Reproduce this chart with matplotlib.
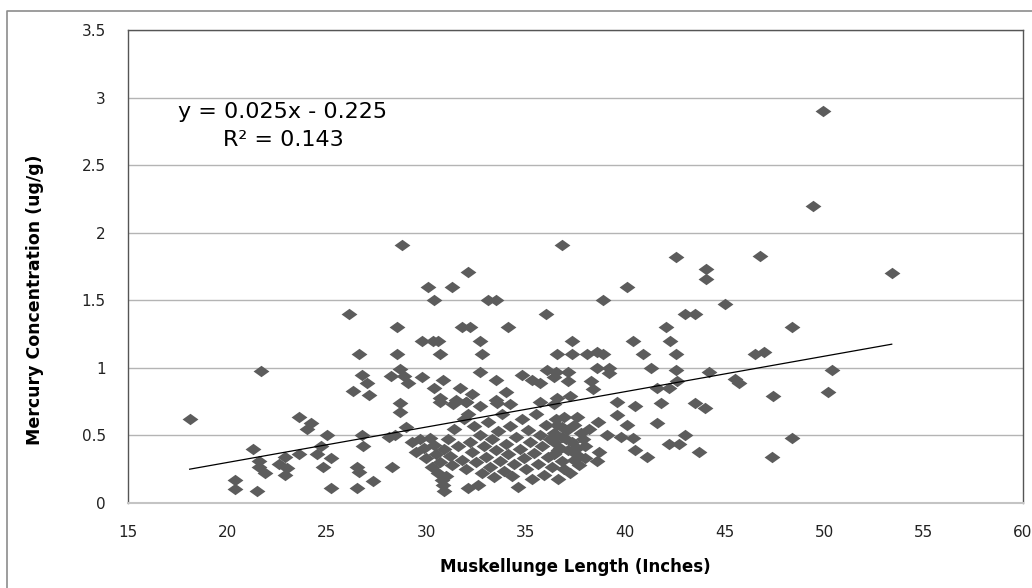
import matplotlib
matplotlib.use("Agg")
import matplotlib.pyplot as plt
import numpy as np
from matplotlib.lines import Line2D
from matplotlib.ticker import FuncFormatter

# lengths (inches) and mercury (ug/g)
length_in = [
    18.1, 20.4, 20.4, 21.5, 21.3, 21.6, 21.6, 21.9, 21.7,
    22.6, 22.9, 23.0, 22.9, 23.6, 23.6, 24.2, 24.0, 24.5, 24.7, 25.0, 25.2, 24.8, 25.2,
    26.1, 26.6, 26.75, 27.0, 26.3, 27.1, 26.75, 26.8, 26.5, 26.6, 26.5, 27.3,
    28.5, 28.5, 28.8, 28.2, 28.7, 28.9, 29.1, 28.7, 28.7, 28.1, 28.4, 28.25, 29.0,
    30.1, 31.3, 32.1, 30.4, 33.1, 33.5, 36.0, 36.8,
    31.8, 32.2, 34.1, 29.8, 30.35, 30.6, 32.7, 30.7, 32.8, 36.55,
    32.7, 29.8, 30.85, 30.4, 30.7, 31.7, 32.3, 31.5, 32.0, 33.5, 34.0, 33.5, 34.8, 35.3, 35.7, 36.05, 36.4,
    38.9, 40.1, 42.55, 44.06, 44.06, 43.0, 43.5, 45.0,
    42.05, 42.25, 37.3, 40.4, 37.3, 38.1, 38.6, 38.9, 40.9, 42.55,
    38.6, 39.2, 39.2, 41.3, 42.55, 44.2, 36.5, 37.1, 37.1, 38.3, 38.4, 41.6, 42.2, 42.6,
    36.55, 37.2, 39.6, 40.5, 41.8, 43.5, 44.0,
    37.6, 38.65, 39.6, 40.1, 41.6, 36.9, 36.55, 37.05, 36.8, 39.1, 39.8, 40.4, 43.0, 42.2, 42.7,
    37.9, 38.0, 38.7, 40.5, 41.1, 43.7, 36.4, 36.7, 37.1, 36.4, 36.8, 37.4, 37.7, 38.6, 36.6,
    49.96, 49.46, 46.77, 53.4, 48.4, 46.5, 47.0, 50.4, 45.5, 45.7, 47.45, 50.2, 48.4, 47.36,
    30.7, 31.35, 32.0, 32.7, 33.55, 34.2, 35.7, 36.4, 32.1,
    29.3, 29.5, 29.7, 29.9, 30.0, 30.2, 30.3, 30.4, 30.5, 30.6, 30.7, 30.8, 30.85, 30.9,
    31.0, 30.9, 31.1, 31.2, 31.3, 31.4, 31.6, 31.8, 31.9, 32.0, 32.1, 32.2, 32.3, 32.4,
    32.5, 32.6, 32.7, 32.8, 32.9, 33.0, 33.1, 33.2, 33.3, 33.4, 33.5, 33.6, 33.7, 33.8,
    33.9, 34.0, 34.1, 34.2, 34.3, 34.4, 34.5, 34.6, 34.7, 34.8, 34.9, 35.0, 35.1, 35.2,
    35.3, 35.4, 35.5, 35.6, 35.7, 35.8, 35.9, 36.0, 36.1, 36.2, 36.3, 36.5, 36.6, 36.9,
    37.3, 37.5, 37.8, 37.0, 37.4, 37.6, 38.0, 38.2, 37.2, 36.8, 36.4,
]
mercury = [
    0.62, 0.17, 0.10, 0.09, 0.40, 0.31, 0.27, 0.22, 0.98,
    0.29, 0.34, 0.26, 0.21, 0.36, 0.64, 0.59, 0.55, 0.36, 0.42, 0.50, 0.33, 0.27, 0.11,
    1.40, 1.10, 0.95, 0.89, 0.83, 0.80, 0.50, 0.42, 0.27, 0.23, 0.11, 0.16,
    1.10, 1.30, 1.91, 0.94, 0.99, 0.94, 0.89, 0.74, 0.67, 0.49, 0.50, 0.27, 0.565,
    1.60, 1.60, 1.71, 1.50, 1.50, 1.50, 1.40, 1.91,
    1.30, 1.30, 1.30, 1.20, 1.20, 1.20, 1.20, 1.10, 1.10, 1.10,
    0.97, 0.935, 0.91, 0.85, 0.775, 0.85, 0.81, 0.76, 0.75, 0.91, 0.825, 0.76, 0.95, 0.91, 0.89, 0.985, 0.935,
    1.50, 1.60, 1.82, 1.73, 1.66, 1.40, 1.40, 1.47,
    1.30, 1.20, 1.20, 1.20, 1.10, 1.10, 1.12, 1.10, 1.10, 1.10,
    1.00, 1.00, 0.96, 1.00, 0.985, 0.97, 0.97, 0.97, 0.90, 0.90, 0.84, 0.85, 0.85, 0.90,
    0.775, 0.79, 0.75, 0.72, 0.74, 0.74, 0.70,
    0.64, 0.60, 0.65, 0.58, 0.59, 0.64, 0.58, 0.54, 0.49, 0.50, 0.49, 0.48, 0.50, 0.44, 0.44,
    0.47, 0.42, 0.38, 0.39, 0.34, 0.38, 0.45, 0.405, 0.39, 0.36, 0.31, 0.32, 0.28, 0.31, 0.18,
    2.90, 2.20, 1.83, 1.70, 1.30, 1.10, 1.12, 0.985, 0.92, 0.89, 0.795, 0.82, 0.48, 0.34,
    0.75, 0.73, 0.745, 0.72, 0.74, 0.73, 0.745, 0.73, 0.66,
    0.45, 0.38, 0.47, 0.41, 0.33, 0.48, 0.27, 0.43, 0.36, 0.22, 0.30, 0.17, 0.13, 0.09,
    0.20, 0.40, 0.47, 0.35, 0.28, 0.55, 0.42, 0.32, 0.62, 0.25, 0.11, 0.45, 0.38, 0.57,
    0.30, 0.13, 0.50, 0.22, 0.42, 0.34, 0.60, 0.27, 0.47, 0.19, 0.39, 0.53, 0.31, 0.66,
    0.24, 0.44, 0.36, 0.57, 0.20, 0.29, 0.49, 0.12, 0.40, 0.62, 0.33, 0.25, 0.54, 0.45,
    0.18, 0.37, 0.66, 0.29, 0.50, 0.42, 0.21, 0.58, 0.34, 0.47, 0.27, 0.62, 0.39, 0.25,
    0.45, 0.36, 0.52, 0.47, 0.58, 0.41, 0.33, 0.55, 0.22, 0.56, 0.52,
]

trend = [0.0262, -0.224]   # slope, intercept as drawn
eq_text = "y = 0.025x - 0.225"
r2_text = "R\u00b2 = 0.143"
xticks = [15, 20, 25, 30, 35, 40, 45, 50, 55, 60]
yticks = [0, 0.5, 1, 1.5, 2, 2.5, 3, 3.5]

W, H = 1032, 588
fig = plt.figure(figsize=(W / 100, H / 100), dpi=100)
ax = fig.add_axes([128 / W, 1 - 503 / H, (1023 - 128) / W, (503 - 30) / H])

# outer chart border (only left and top show in the picture)
fig.lines.append(Line2D([7 / W, 7 / W, 1], [0, 1 - 11 / H, 1 - 11 / H],
                        transform=fig.transFigure, color="#8c8c8c", lw=1.2))

diamond = [(-1, 0), (0, 0.72), (1, 0), (0, -0.72), (-1, 0)]
ax.scatter(length_in, mercury, marker=diamond, s=130, color="#5c5c5c",
           linewidths=0, zorder=3)

xl = np.array([min(length_in), max(length_in)])
ax.plot(xl, trend[0] * xl + trend[1], color="black", lw=0.9, zorder=4)

ax.set_xlim(15, 60)
ax.set_ylim(0, 3.5)
ax.set_xticks(xticks)
ax.set_yticks(yticks)
fmt = FuncFormatter(lambda v, p: "%g" % v)
ax.xaxis.set_major_formatter(fmt)
ax.yaxis.set_major_formatter(fmt)
ax.tick_params(length=0, labelsize=11, colors="#222222")
ax.tick_params(axis="y", pad=16)
ax.tick_params(axis="x", pad=16)
ax.grid(axis="y", color="#b4b4b4", lw=1)
ax.set_axisbelow(True)
for s in ["left", "top", "right"]:
    ax.spines[s].set_color("#555555")
    ax.spines[s].set_linewidth(1)
ax.spines["bottom"].set_color("#c4c4c4")
ax.spines["bottom"].set_linewidth(1.5)

fig.text(283 / W, 1 - 112 / H, eq_text, ha="center", va="center", fontsize=16)
fig.text(283 / W, 1 - 140 / H, r2_text, ha="center", va="center", fontsize=16)

fig.text(575 / W, 1 - 567 / H, "Muskellunge Length (Inches)", ha="center",
         va="center", fontsize=12, fontweight="bold")
fig.text(35 / W, 1 - 300 / H, "Mercury Concentration (ug/g)", ha="center",
         va="center", rotation=90, fontsize=12.5, fontweight="bold")

fig.savefig("out.png", dpi=100)
